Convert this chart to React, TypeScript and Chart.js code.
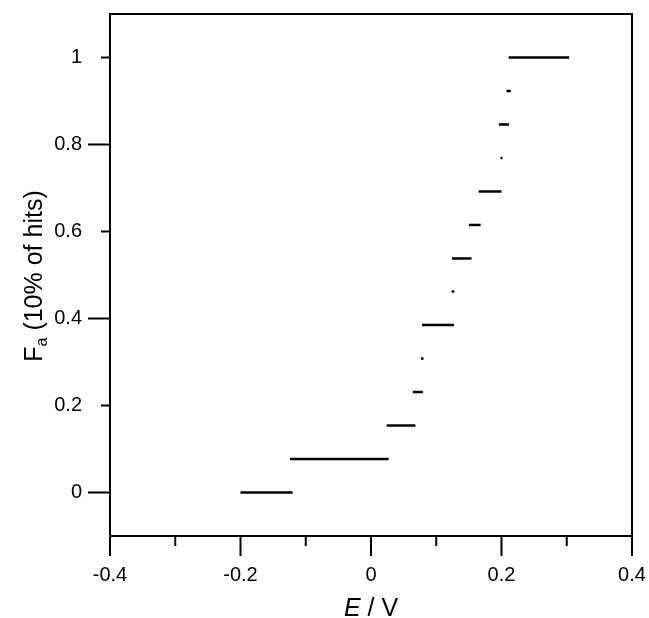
import React, { useEffect, useRef } from "react";
import { Chart, registerables } from "chart.js";

Chart.register(...registerables);

// Step levels (fraction of hits) and the E range (V) of each horizontal segment
const stepLevels = [0, 0.077, 0.154, 0.231, 0.308, 0.385, 0.462, 0.538, 0.615, 0.692, 0.769, 0.846, 0.923, 1];
const segStart = [-0.2, -0.124, 0.024, 0.064, 0.0765, 0.078, 0.1235, 0.124, 0.15, 0.165, 0.1985, 0.196, 0.2075, 0.211];
const segEnd = [-0.12, 0.027, 0.068, 0.0795, 0.0805, 0.127, 0.1275, 0.154, 0.168, 0.2, 0.2015, 0.2115, 0.2142, 0.3037];

const xTickValues = [-0.4, -0.2, 0, 0.2, 0.4];
const xTickLabels = ["-0.4", "-0.2", "0", "0.2", "0.4"];
const xMinorTicks = [-0.3, -0.1, 0.1, 0.3];
const yTickValues = [0, 0.2, 0.4, 0.6, 0.8, 1];
const yTickLabels = ["0", "0.2", "0.4", "0.6", "0.8", "1"];
const yLongTicks = [0, 0.4, 0.8];
const yShortTicks = [0.2, 0.6, 1];

const FONT = "'Liberation Sans', Arial, Helvetica, sans-serif";

const framePlugin = {
  id: "frameAndTitles",
  afterDraw(chart: any) {
    const { ctx, chartArea, scales } = chart;
    const { left, top, right, bottom } = chartArea;
    const xs = scales.x;
    const ys = scales.y;
    ctx.save();
    ctx.strokeStyle = "#000";
    ctx.lineWidth = 2;
    ctx.strokeRect(left, top, right - left, bottom - top);
    ctx.beginPath();
    for (const v of xTickValues) {
      const p = xs.getPixelForValue(v);
      ctx.moveTo(p, bottom);
      ctx.lineTo(p, bottom + 20);
    }
    for (const v of xMinorTicks) {
      const p = xs.getPixelForValue(v);
      ctx.moveTo(p, bottom);
      ctx.lineTo(p, bottom + 10);
    }
    for (const v of yLongTicks) {
      const p = ys.getPixelForValue(v);
      ctx.moveTo(left, p);
      ctx.lineTo(left - 22, p);
    }
    for (const v of yShortTicks) {
      const p = ys.getPixelForValue(v);
      ctx.moveTo(left, p);
      ctx.lineTo(left - 9, p);
    }
    ctx.stroke();

    // x title: italic E / V
    ctx.fillStyle = "#000";
    ctx.textBaseline = "alphabetic";
    ctx.textAlign = "left";
    const tf = 25;
    ctx.font = `italic ${tf}px ${FONT}`;
    const wE = ctx.measureText("E").width;
    ctx.font = `${tf}px ${FONT}`;
    const wRest = ctx.measureText(" / V").width;
    const cx = (left + right) / 2;
    const sx = cx - (wE + wRest) / 2;
    const by = 616;
    ctx.font = `italic ${tf}px ${FONT}`;
    ctx.fillText("E", sx, by);
    ctx.font = `${tf}px ${FONT}`;
    ctx.fillText(" / V", sx + wE, by);

    // y title: F_a (10% of hits), rotated
    ctx.translate(42, 276);
    ctx.rotate(-Math.PI / 2);
    ctx.font = `${tf}px ${FONT}`;
    const wF = ctx.measureText("F").width;
    const rest = " (10% of hits)";
    const wR = ctx.measureText(rest).width;
    ctx.font = `16px ${FONT}`;
    const wa = ctx.measureText("a").width;
    const total = wF + wa + wR;
    let tx = -total / 2;
    ctx.font = `${tf}px ${FONT}`;
    ctx.fillText("F", tx, 0);
    tx += wF;
    ctx.font = `16px ${FONT}`;
    ctx.fillText("a", tx, 5);
    tx += wa;
    ctx.font = `${tf}px ${FONT}`;
    ctx.fillText(rest, tx, 0);
    ctx.restore();
  },
};

export default function App() {
  const ref = useRef<HTMLCanvasElement | null>(null);
  useEffect(() => {
    if (!ref.current) return;
    const datasets = stepLevels.map((lvl, i) => ({
      data: [
        { x: segStart[i], y: lvl },
        { x: segEnd[i], y: lvl },
      ],
      borderColor: "#000",
      borderWidth: 2.5,
      borderCapStyle: "butt" as const,
      pointRadius: 0,
      pointHoverRadius: 0,
      fill: false,
      tension: 0,
    }));
    const hiddenGrid = {
      display: true,
      drawOnChartArea: false,
      drawTicks: true,
      color: "rgba(0,0,0,0)",
      tickColor: "rgba(0,0,0,0)",
    };
    const chart = new Chart(ref.current, {
      type: "line",
      data: { datasets },
      options: {
        responsive: false,
        animation: false,
        events: [],
        layout: { padding: { top: 13, right: 17, left: 0, bottom: 0 } },
        plugins: { legend: { display: false }, tooltip: { enabled: false } },
        scales: {
          x: {
            type: "linear",
            min: -0.4,
            max: 0.4,
            grid: { ...hiddenGrid, tickLength: 25 },
            border: { display: false },
            afterBuildTicks: (s: any) => {
              s.ticks = xTickValues.map((v) => ({ value: v }));
            },
            afterFit: (s: any) => {
              s.height = 82;
            },
            ticks: {
              padding: 2,
              color: "#000",
              maxRotation: 0,
              autoSkip: false,
              font: { family: FONT, size: 20 },
              callback: (v: any) => {
                const i = xTickValues.findIndex((t) => Math.abs(t - v) < 1e-9);
                return i >= 0 ? xTickLabels[i] : "";
              },
            },
          },
          y: {
            type: "linear",
            min: -0.1,
            max: 1.1,
            grid: { ...hiddenGrid, tickLength: 26 },
            border: { display: false },
            afterBuildTicks: (s: any) => {
              s.ticks = yTickValues.map((v) => ({ value: v }));
            },
            afterFit: (s: any) => {
              s.width = 110;
            },
            ticks: {
              padding: 2,
              color: "#000",
              autoSkip: false,
              font: { family: FONT, size: 20 },
              callback: (v: any) => {
                const i = yTickValues.findIndex((t) => Math.abs(t - v) < 1e-9);
                return i >= 0 ? yTickLabels[i] : "";
              },
            },
          },
        },
      },
      plugins: [framePlugin],
    });
    return () => chart.destroy();
  }, []);
  return (
    <div style={{ position: "absolute", left: 0, top: 0, width: 649, height: 618, background: "#fff" }}>
      <canvas ref={ref} width={649} height={618} style={{ display: "block" }} />
    </div>
  );
}
